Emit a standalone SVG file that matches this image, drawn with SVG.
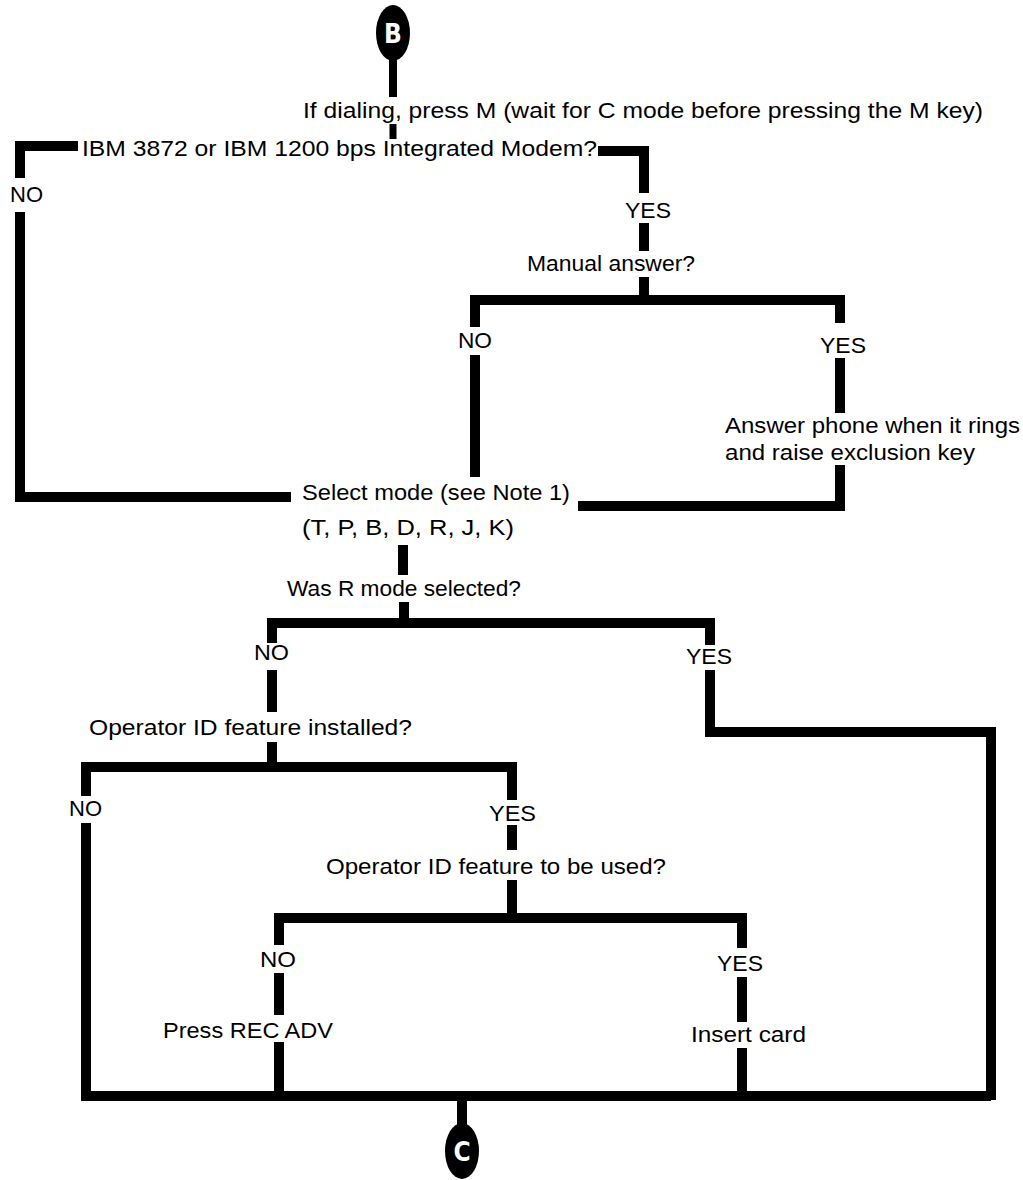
<svg xmlns="http://www.w3.org/2000/svg" width="1023" height="1180" viewBox="0 0 1023 1180">
<style>
text{font-family:"Liberation Sans",Arial,sans-serif;font-size:22px;fill:#000}
.ln{fill:none;stroke:#000;stroke-width:10;stroke-linejoin:miter;stroke-linecap:butt}
.st{fill:none;stroke:#000;stroke-width:8}
.bub{fill:#000}
.bl{font-family:"DejaVu Sans Condensed","Liberation Sans",sans-serif;font-weight:bold;font-size:26px;fill:#fff}
</style>
<rect width="1023" height="1180" fill="#fff"/>
<g id="connectors">
<path class="st" d="M393 55V97"/>
<path class="st" d="M393 124V139" style="stroke-width:7"/>
<path class="ln" d="M78 146H20V178M20 212V497H291"/>
<path class="ln" d="M598 151H644V193M644 223V251M644 277V300"/>
<path class="ln" d="M475 327V300H840V323M475 355V477M840 358V413M840 465V506H578"/>
<path class="ln" d="M403 545V575M404 602V623"/>
<path class="ln" d="M272 643V623H710V645M272 670V712M710 670V732H991V1100"/>
<path class="ln" d="M272 742V767"/>
<path class="ln" d="M86 796V767H512V800M86 823V1096H991M512 825V850"/>
<path class="ln" d="M512 880V918M279 945V918H742V948M279 973V1015M279 1042V1096M742 977V1022M742 1048V1096"/>
<path class="ln" d="M462 1096V1127"/>
</g>
<g id="node-B">
<ellipse class="bub" cx="393" cy="33" rx="17" ry="28"/>
<text class="bl" x="393" y="43" text-anchor="middle">B</text>
</g>
<g id="node-dial"><text x="303" y="118" textLength="680" lengthAdjust="spacingAndGlyphs">If dialing, press M (wait for C mode before pressing the M key)</text></g>
<g id="node-modem"><text x="82" y="156" textLength="515" lengthAdjust="spacingAndGlyphs">IBM 3872 or IBM 1200 bps Integrated Modem?</text></g>
<g id="lbl-no1"><text x="10" y="202" textLength="33" lengthAdjust="spacingAndGlyphs">NO</text></g>
<g id="lbl-yes1"><text x="625" y="218" textLength="46" lengthAdjust="spacingAndGlyphs">YES</text></g>
<g id="node-manual"><text x="527" y="271" textLength="168" lengthAdjust="spacingAndGlyphs">Manual answer?</text></g>
<g id="lbl-no2"><text x="458" y="348" textLength="34" lengthAdjust="spacingAndGlyphs">NO</text></g>
<g id="lbl-yes2"><text x="820" y="353" textLength="46" lengthAdjust="spacingAndGlyphs">YES</text></g>
<g id="node-answer">
<text x="725" y="433" textLength="295" lengthAdjust="spacingAndGlyphs">Answer phone when it rings</text>
<text x="725" y="460" textLength="250" lengthAdjust="spacingAndGlyphs">and raise exclusion key</text>
</g>
<g id="node-select">
<text x="302" y="500" textLength="268" lengthAdjust="spacingAndGlyphs">Select mode (see Note 1)</text>
<text x="302" y="535" textLength="212" lengthAdjust="spacingAndGlyphs">(T, P, B, D, R, J, K)</text>
</g>
<g id="node-rmode"><text x="287" y="596" textLength="234" lengthAdjust="spacingAndGlyphs">Was R mode selected?</text></g>
<g id="lbl-no3"><text x="254" y="660" textLength="35" lengthAdjust="spacingAndGlyphs">NO</text></g>
<g id="lbl-yes3"><text x="686" y="664" textLength="46" lengthAdjust="spacingAndGlyphs">YES</text></g>
<g id="node-opinst"><text x="89" y="735" textLength="323" lengthAdjust="spacingAndGlyphs">Operator ID feature installed?</text></g>
<g id="lbl-no4"><text x="69" y="816" textLength="33" lengthAdjust="spacingAndGlyphs">NO</text></g>
<g id="lbl-yes4"><text x="489" y="821" textLength="47" lengthAdjust="spacingAndGlyphs">YES</text></g>
<g id="node-opuse"><text x="326" y="874" textLength="340" lengthAdjust="spacingAndGlyphs">Operator ID feature to be used?</text></g>
<g id="lbl-no5"><text x="260" y="967" textLength="36" lengthAdjust="spacingAndGlyphs">NO</text></g>
<g id="lbl-yes5"><text x="717" y="971" textLength="46" lengthAdjust="spacingAndGlyphs">YES</text></g>
<g id="node-rec"><text x="163" y="1038" textLength="170" lengthAdjust="spacingAndGlyphs">Press REC ADV</text></g>
<g id="node-card"><text x="691" y="1042" textLength="115" lengthAdjust="spacingAndGlyphs">Insert card</text></g>
<g id="node-C">
<ellipse class="bub" cx="462" cy="1151" rx="17" ry="28"/>
<text class="bl" x="462" y="1161" text-anchor="middle">C</text>
</g>
</svg>
